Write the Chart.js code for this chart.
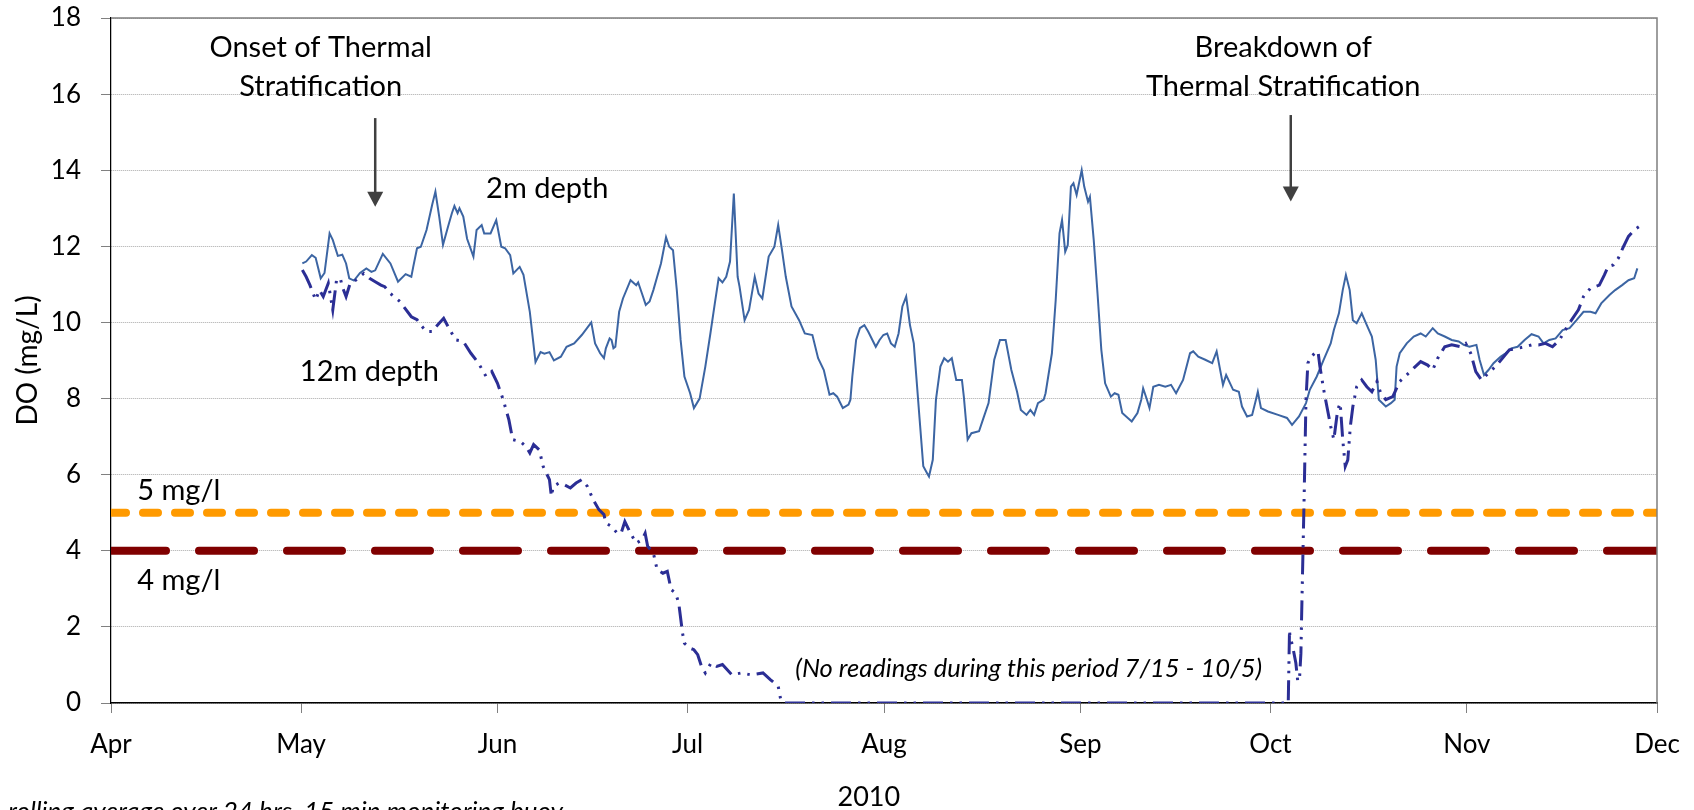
<!DOCTYPE html>
<html>
<head>
<meta charset="utf-8">
<script src="https://cdn.jsdelivr.net/npm/chart.js@4.4.1/dist/chart.umd.min.js"></script>
<style>
  html, body { margin: 0; padding: 0; background: #fff; }
  #wrap { width: 1694px; height: 810px; position: relative; }
</style>
</head>
<body>
<div id="wrap"><canvas id="doChart"></canvas></div>
<script>
"use strict";

// x values are days after April 1, 2010
const monthStarts = [0, 30, 61, 91, 122, 153, 183, 214, 244];
const monthLabels = ["Apr", "May", "Jun", "Jul", "Aug", "Sep", "Oct", "Nov", "Dec"];

// 2m depth
const days2m = [
  30.2, 30.8, 31.7, 32.3, 33.1, 33.7, 34.5, 35.0, 35.8, 36.5, 37.1, 37.6, 38.35, 39.3, 40.3, 41.1,
  41.7, 42.9, 44.1, 45.3, 46.5, 47.4, 47.7, 48.3, 48.9, 49.8, 50.7, 51.2, 51.8, 52.4, 53.2, 53.8,
  54.2, 54.7, 55.0, 55.6, 56.2, 57.2, 57.7, 58.5, 58.9, 59.9, 60.8, 61.6, 62.2, 63.0, 63.5, 64.5,
  65.1, 66.1, 67.0, 67.8, 68.4, 69.2, 69.9, 71.0, 71.9, 73.1, 74.3, 75.8, 76.4, 77.2, 77.8, 78.1,
  78.7, 79.0, 79.3, 79.6, 80.2, 80.8, 82.0, 82.9, 83.2, 83.8, 84.4, 85.0, 85.6, 86.2, 86.8, 87.6,
  88.1, 88.7, 89.3, 89.9, 90.5, 91.4, 92.0, 92.9, 93.8, 94.6, 95.3, 95.9, 96.5, 97.1, 97.7, 98.3,
  98.9, 99.2, 100.0, 100.7, 101.6, 102.2, 102.8, 103.8, 104.7, 105.3, 105.9, 106.5, 107.4, 108.6, 109.5, 110.7,
  111.6, 112.5, 113.4, 114.0, 114.6, 115.5, 116.4, 116.7, 117.0, 117.6, 118.2, 118.9, 119.5, 120.7, 121.3, 121.9,
  122.5, 123.1, 123.7, 124.3, 124.9, 125.5, 126.1, 126.7, 127.6, 128.2, 128.8, 129.1, 129.7, 130.2, 130.9, 131.5,
  132.1, 132.7, 133.4, 134.3, 134.6, 135.2, 135.8, 137.0, 137.6, 138.5, 139.4, 140.3, 141.2, 142.1, 143.0, 143.6,
  144.5, 145.1, 145.7, 146.3, 147.2, 147.5, 148.5, 149.1, 149.7, 150.1, 150.6, 151.0, 151.5, 151.9, 152.4, 153.2,
  153.6, 154.2, 154.5, 155.1, 155.7, 156.3, 156.9, 157.8, 158.4, 159.0, 159.6, 161.1, 162.0, 162.6, 162.9, 163.5,
  163.9, 164.5, 165.4, 166.4, 167.3, 168.1, 169.2, 170.3, 170.8, 171.6, 172.7, 173.8, 174.5, 175.5, 176.0, 177.1,
  178.0, 178.5, 179.3, 180.1, 180.7, 181.0, 181.5, 182.6, 184.2, 185.6, 186.4, 187.5, 188.6, 189.2, 190.3, 191.4,
  192.5, 193.0, 193.8, 194.4, 194.9, 195.5, 196.0, 196.6, 197.4, 198.2, 199.0, 199.6, 200.1, 201.2, 202.0, 202.6,
  202.9, 203.4, 204.5, 205.6, 206.7, 207.5, 208.6, 209.4, 210.5, 211.6, 212.7, 213.5, 214.4, 215.5, 216.0, 216.7,
  217.4, 218.2, 219.3, 220.1, 221.0, 222.0, 223.1, 224.2, 225.3, 226.1, 227.0, 228.0, 229.1, 230.2, 231.3, 232.4,
  233.5, 234.3, 235.2, 236.5, 237.4, 238.5, 239.5, 240.4, 240.9
];
const do2m = [
  11.55, 11.6, 11.77, 11.7, 11.16, 11.3, 12.34, 12.17, 11.75, 11.78, 11.55, 11.16, 11.1, 11.3, 11.42, 11.33,
  11.37, 11.8, 11.55, 11.07, 11.27, 11.2, 11.46, 11.95, 11.99, 12.43, 13.1, 13.44, 12.78, 12.04, 12.52, 12.87,
  13.06, 12.87, 13.0, 12.78, 12.2, 11.73, 12.43, 12.56, 12.34, 12.34, 12.69, 11.99, 11.95, 11.77, 11.29, 11.46,
  11.25, 10.28, 8.96, 9.22, 9.18, 9.22, 9.0, 9.1, 9.36, 9.45, 9.67, 10.0, 9.45, 9.19, 9.06, 9.32,
  9.58, 9.54, 9.32, 9.36, 10.28, 10.63, 11.11, 10.98, 11.05, 10.76, 10.46, 10.55, 10.85, 11.2, 11.55, 12.24,
  11.99, 11.9, 10.85, 9.54, 8.58, 8.14, 7.75, 8.0, 8.84, 9.71, 10.5, 11.16, 11.05, 11.2, 11.6, 13.39,
  11.2, 10.94, 10.06, 10.33, 11.2, 10.76, 10.63, 11.73, 11.99, 12.56, 11.9, 11.2, 10.42, 10.06, 9.71, 9.67,
  9.06, 8.75, 8.1, 8.14, 8.05, 7.75, 7.84, 7.97, 8.58, 9.54, 9.85, 9.93, 9.76, 9.36, 9.54, 9.67,
  9.71, 9.45, 9.36, 9.71, 10.42, 10.68, 9.93, 9.45, 7.5, 6.22, 6.04, 5.95, 6.39, 7.97, 8.84, 9.06,
  8.97, 9.06, 8.49, 8.49, 8.05, 6.92, 7.09, 7.14, 7.44, 7.88, 9.02, 9.54, 9.54, 8.75, 8.18, 7.7,
  7.57, 7.7, 7.57, 7.88, 7.97, 8.14, 9.19, 10.59, 12.34, 12.69, 11.86, 12.03, 13.57, 13.66, 13.35, 14.0,
  13.57, 13.17, 13.3, 12.17, 10.76, 9.28, 8.4, 8.05, 8.14, 8.1, 7.62, 7.4, 7.62, 7.97, 8.27, 7.97,
  7.75, 8.31, 8.36, 8.31, 8.36, 8.14, 8.49, 9.19, 9.24, 9.1, 9.02, 8.93, 9.24, 8.36, 8.62, 8.23,
  8.18, 7.79, 7.53, 7.57, 7.97, 8.18, 7.75, 7.66, 7.57, 7.49, 7.31, 7.53, 7.88, 8.23, 8.58, 9.02,
  9.45, 9.8, 10.24, 10.85, 11.25, 10.85, 10.06, 9.98, 10.24, 9.93, 9.63, 9.02, 7.97, 7.79, 7.88, 7.97,
  8.84, 9.19, 9.45, 9.63, 9.71, 9.63, 9.85, 9.71, 9.63, 9.54, 9.5, 9.41, 9.36, 9.41, 9.02, 8.62,
  8.75, 8.93, 9.1, 9.19, 9.32, 9.36, 9.54, 9.69, 9.63, 9.45, 9.54, 9.58, 9.8, 9.85, 10.06, 10.28,
  10.28, 10.24, 10.5, 10.72, 10.85, 10.98, 11.11, 11.16, 11.42
];

// 12m depth (zero stretch = no readings 7/15 - 10/5)
const days12m = [
  30.2, 30.8, 31.4, 32.3, 32.9, 33.5, 34.3, 35.0, 35.6, 36.2, 36.5, 37.1, 37.75, 38.35, 38.95, 39.9,
  40.8, 41.7, 42.6, 43.2, 44.1, 45.6, 47.4, 48.3, 48.9, 49.8, 50.7, 51.3, 52.5, 53.5, 54.4, 55.6,
  56.8, 58.0, 59.2, 60.1, 61.0, 61.9, 62.8, 63.4, 64.6, 65.5, 66.1, 66.7, 67.6, 68.2, 69.2, 69.5,
  69.8, 70.7, 71.6, 72.5, 73.4, 74.3, 75.2, 76.1, 77.0, 77.8, 78.1, 79.0, 79.9, 80.5, 81.1, 82.0,
  82.9, 83.8, 84.3, 84.7, 85.6, 86.2, 87.1, 87.8, 88.4, 89.1, 89.6, 90.2, 90.5, 91.4, 92.0, 92.6,
  93.2, 93.8, 94.7, 95.6, 96.5, 98.0, 99.5, 101.0, 102.9, 104.1, 105.3, 105.7, 106.2, 185.8, 186.0, 186.1,
  186.3, 186.6, 187.0, 187.3, 187.6, 187.8, 187.9, 188.3, 188.5, 188.6, 188.9, 189.4, 190.0, 190.5, 190.8, 191.4,
  191.9, 192.5, 193.0, 193.6, 194.0, 194.4, 194.8, 195.2, 195.6, 196.0, 196.6, 197.4, 198.2, 199.0, 199.8, 200.4,
  201.2, 202.3, 203.4, 204.5, 205.6, 206.7, 207.8, 208.6, 209.4, 210.5, 211.6, 213.0, 213.8, 214.6, 215.4, 216.3,
  217.4, 218.5, 219.6, 220.7, 222.0, 223.1, 224.2, 225.3, 226.4, 227.5, 228.6, 229.7, 230.5, 231.6, 232.4, 233.5,
  234.9, 235.7, 236.3, 237.1, 237.9, 238.7, 239.5, 240.4, 241.2
];
const do12m = [
  11.38, 11.2, 10.98, 10.59, 10.85, 10.68, 11.03, 10.33, 11.12, 11.16, 10.94, 10.68, 11.03, 11.07, 11.16, 11.29,
  11.16, 11.07, 10.98, 10.94, 10.76, 10.55, 10.15, 10.07, 9.93, 9.76, 9.76, 9.89, 10.11, 9.8, 9.54, 9.5,
  9.19, 8.93, 8.58, 8.71, 8.4, 7.97, 7.44, 6.92, 6.87, 6.74, 6.57, 6.79, 6.65, 6.22, 5.87, 5.43,
  5.69, 5.78, 5.73, 5.65, 5.78, 5.87, 5.69, 5.34, 5.08, 4.95, 4.73, 4.64, 4.46, 4.46, 4.77, 4.46,
  4.2, 4.29, 4.46, 4.12, 3.94, 3.5, 3.41, 3.46, 2.98, 2.89, 2.63, 1.84, 1.57, 1.44, 1.4, 1.27,
  0.96, 0.79, 1.05, 0.96, 1.01, 0.74, 0.79, 0.74, 0.79, 0.61, 0.44, 0.09, 0, 0, 1.92, 1.66,
  1.62, 1.4, 1.05, 0.57, 0.7, 1.31, 2.19, 5.34, 7.09, 7.97, 8.93, 9.1, 9.19, 9.24, 8.84, 8.23,
  7.79, 7.27, 6.92, 7.7, 7.88, 6.92, 6.22, 6.39, 7.27, 7.79, 8.31, 8.49, 8.31, 8.18, 8.45, 8.14,
  7.97, 8.05, 8.45, 8.62, 8.8, 8.97, 8.88, 8.75, 9.06, 9.36, 9.41, 9.36, 9.45, 9.19, 8.71, 8.49,
  8.67, 8.84, 9.06, 9.28, 9.32, 9.36, 9.41, 9.41, 9.45, 9.36, 9.54, 9.85, 10.06, 10.33, 10.68, 10.9,
  10.98, 11.25, 11.47, 11.51, 11.69, 11.99, 12.26, 12.43, 12.52
];

// threshold lines
const limit5 = 5;
const limit4 = 4;

const pts = (xs, ys) => xs.map((d, i) => ({ x: d, y: ys[i] }));
const flat = (v) => [{ x: monthStarts[0], y: v }, { x: monthStarts[monthStarts.length - 1], y: v }];

const FONT = "Lato, 'Open Sans', sans-serif";

const notes = {
  id: "notes",
  afterDraw(chart) {
    const { ctx, chartArea: a, scales: { x, y } } = chart;
    ctx.save();

    ctx.strokeStyle = "#7f7f7f";
    ctx.lineWidth = 1.5;
    ctx.beginPath();
    ctx.moveTo(a.left, a.top);
    ctx.lineTo(a.right, a.top);
    ctx.lineTo(a.right, a.bottom);
    ctx.stroke();

    const text = (str, d, v, align, font) => {
      ctx.font = font;
      ctx.textAlign = align;
      ctx.textBaseline = "alphabetic";
      ctx.fillStyle = "#000";
      ctx.fillText(str, x.getPixelForValue(d), y.getPixelForValue(v));
    };
    const big = "29px " + FONT;
    text("Onset of Thermal", 33.1, 16.97, "center", big);
    text("Stratification", 33.1, 15.94, "center", big);
    text("Breakdown of", 185.0, 16.97, "center", big);
    text("Thermal Stratification", 185.0, 15.94, "center", big);
    text("2m depth", 59.2, 13.27, "left", big);
    text("12m depth", 29.8, 8.45, "left", big);
    text("5 mg/l", 10.7, 5.34, "center", big);
    text("4 mg/l", 10.7, 2.98, "center", big);
    text("(No readings during this period 7/15 - 10/5)", 108, 0.69, "left", "italic 25.5px " + FONT);

    const arrow = (d, v1, v2) => {
      const px = x.getPixelForValue(d);
      const p1 = y.getPixelForValue(v1);
      const p2 = y.getPixelForValue(v2);
      ctx.strokeStyle = "#404040";
      ctx.fillStyle = "#404040";
      ctx.lineWidth = 2.5;
      ctx.beginPath();
      ctx.moveTo(px, p1);
      ctx.lineTo(px, p2 - 14);
      ctx.stroke();
      ctx.beginPath();
      ctx.moveTo(px - 8, p2 - 15);
      ctx.lineTo(px + 8, p2 - 15);
      ctx.lineTo(px, p2);
      ctx.closePath();
      ctx.fill();
    };
    arrow(41.7, 15.37, 13.04);
    arrow(186.2, 15.45, 13.18);

    ctx.fillStyle = "#000";
    ctx.textAlign = "center";
    ctx.font = "27px " + FONT;
    ctx.fillText("2010", x.getPixelForValue(119.6), a.bottom + 103);

    ctx.textAlign = "left";
    ctx.font = "italic 26px " + FONT;
    ctx.fillText("rolling average over 24 hrs, 15 min monitoring buoy", 8, a.bottom + 117);

    ctx.restore();
  }
};

new Chart(document.getElementById("doChart"), {
  type: "line",
  data: {
    datasets: [
      {
        label: "12m depth",
        data: pts(days12m, do12m),
        borderColor: "#2b2e95",
        borderWidth: 3,
        borderDash: [20, 7, 2.5, 7, 2.5, 7],
        pointRadius: 0,
        tension: 0,
        fill: false
      },
      {
        label: "2m depth",
        data: pts(days2m, do2m),
        borderColor: "#3c65a3",
        borderWidth: 2,
        pointRadius: 0,
        tension: 0,
        fill: false
      },
      {
        label: "5 mg/l",
        data: flat(limit5),
        borderColor: "#ff9a00",
        borderWidth: 8,
        borderDash: [15, 17],
        borderCapStyle: "round",
        pointRadius: 0,
        clip: 0
      },
      {
        label: "4 mg/l",
        data: flat(limit4),
        borderColor: "#800000",
        borderWidth: 8,
        borderDash: [55, 33],
        borderCapStyle: "round",
        pointRadius: 0,
        clip: 0
      }
    ]
  },
  options: {
    responsive: true,
    maintainAspectRatio: false,
    animation: false,
    layout: { padding: { left: 0, right: 37, top: 18, bottom: 0 } },
    plugins: {
      legend: { display: false },
      tooltip: { enabled: false }
    },
    scales: {
      x: {
        type: "linear",
        min: monthStarts[0],
        max: monthStarts[monthStarts.length - 1],
        afterBuildTicks: (scale) => {
          scale.ticks = monthStarts.map((v) => ({ value: v }));
        },
        afterFit: (scale) => {
          scale.height = 107;
          scale.paddingLeft = 0;
          scale.paddingRight = 0;
        },
        ticks: {
          autoSkip: false,
          maxRotation: 0,
          padding: 16,
          color: "#000",
          font: { family: FONT, size: 26 },
          callback: (v, i) => monthLabels[i]
        },
        grid: {
          drawOnChartArea: false,
          tickLength: 10,
          tickColor: "#808080",
          tickWidth: 1
        },
        border: { color: "#000", width: 1.5 }
      },
      y: {
        min: 0,
        max: 18,
        afterFit: (scale) => {
          scale.width = 111;
          scale.paddingTop = 0;
          scale.paddingBottom = 0;
        },
        ticks: {
          stepSize: 2,
          padding: 20,
          color: "#000",
          font: { family: FONT, size: 26 }
        },
        grid: {
          color: "#a8a8a8",
          lineWidth: 1,
          tickLength: 10,
          tickColor: "#808080",
          tickWidth: 1
        },
        border: { color: "#000", width: 1.25, dash: [1, 1] },
        title: {
          display: true,
          text: "DO (mg/L)",
          color: "#000",
          font: { family: FONT, size: 28 },
          padding: { top: 11, bottom: 0 }
        }
      }
    }
  },
  plugins: [notes]
});
</script>
</body>
</html>
